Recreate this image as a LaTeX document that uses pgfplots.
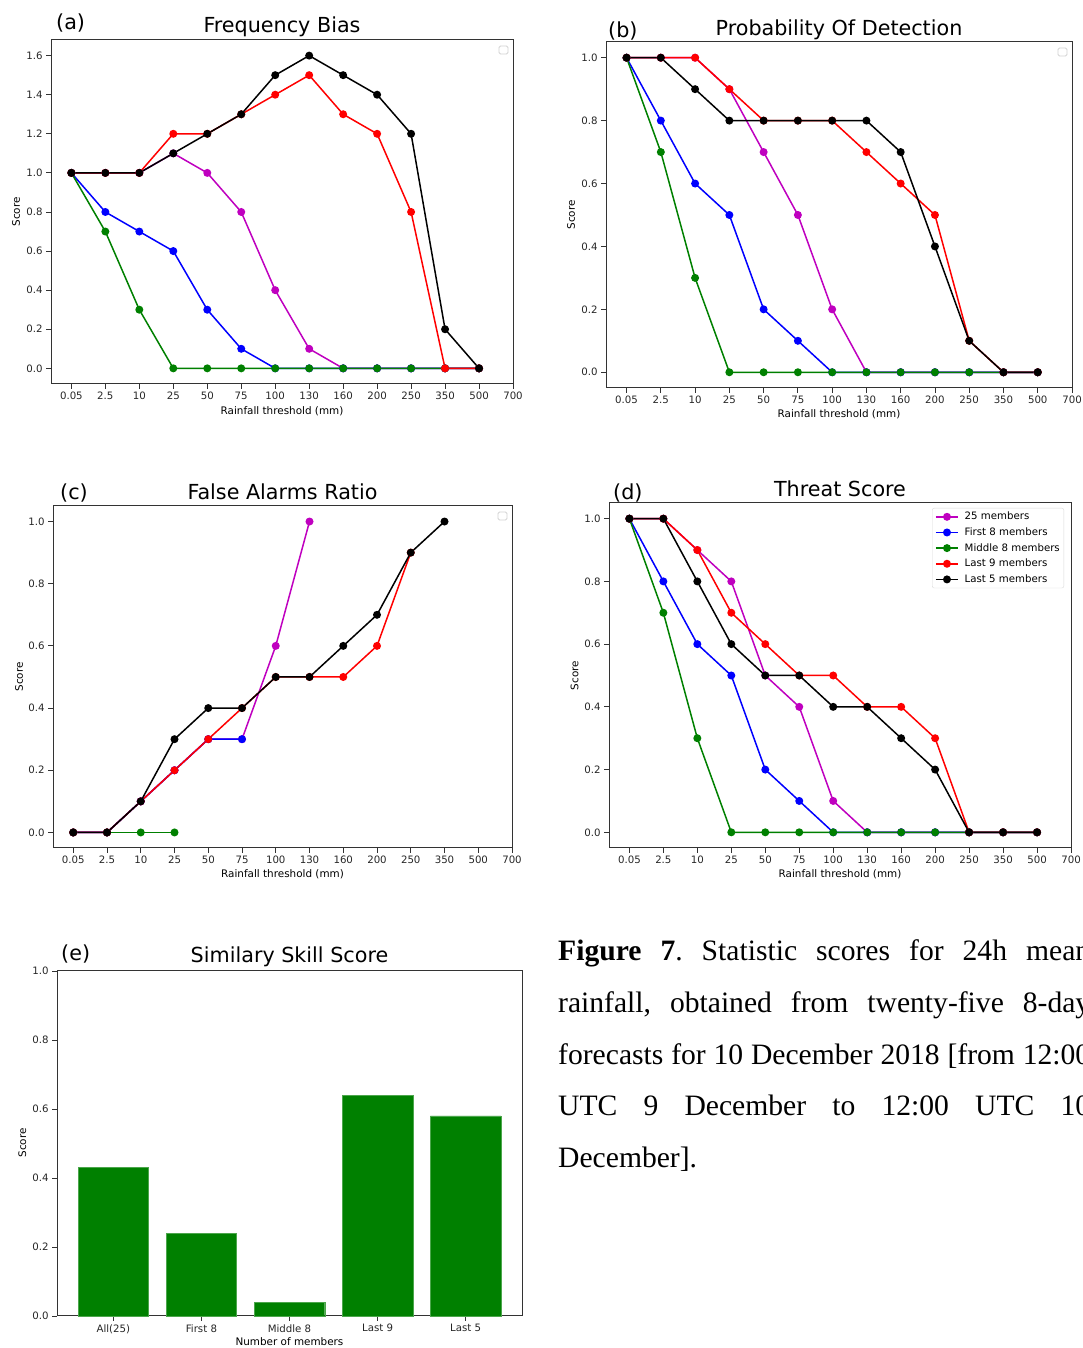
\documentclass[border=0pt]{standalone}
\usepackage{pgfplots}
\pgfplotsset{compat=1.18}
\usepackage{fontspec}
\setmainfont{DejaVu Sans}
\newfontfamily\capfont{Liberation Serif}
\definecolor{mplm}{rgb}{0.75,0,0.75}
\definecolor{mplg}{rgb}{0,0.5,0}
\definecolor{mplb}{rgb}{0,0,1}
\definecolor{mplr}{rgb}{1,0,0}
\newcommand{\fs}[1]{\fontsize{#1}{#1}\selectfont}
\frenchspacing
\pgfplotsset{
  base/.style={scale only axis, axis line style={line width=1pt, black!80},
    tick align=outside, major tick length=4.8pt, tick pos=left,
    tick style={black!80, line width=0.9pt},
    ticklabel style={font=\fs{10.2}, text=black!85},
    clip=false},
  panel/.style={base, xmin=-0.6, xmax=13, xtick={0,...,13},
    xticklabels={0.05,2.5,10,25,50,75,100,130,160,200,250,350,500,700}},
  unit/.style={ymin=-0.05, ymax=1.05, ytick={0,0.2,0.4,0.6,0.8,1.0},
    yticklabels={0.0,0.2,0.4,0.6,0.8,1.0}},
  s/.style={line width=1.5pt, color=#1, mark=*, mark size=3.2pt, mark options={solid, fill=#1}},
  legend image code/.code={\draw[mark repeat=2,mark phase=2,#1] plot coordinates {(0pt,0pt)(11pt,0pt)(22pt,0pt)};},
}
\newcommand{\emptylegend}{\draw[gray!35, line width=0.8pt, rounded corners=1.5pt] (rel axis cs:1,1) ++(-14pt,-6pt) rectangle ++(9pt,-8pt);}
\begin{document}
\begin{tikzpicture}
\useasboundingbox (0,0) rectangle (1082pt,1348pt);
\clip (0,0) rectangle (1082pt,1348pt);

% (a) Frequency Bias
\begin{axis}[panel, at={(51pt,964pt)}, anchor=south west, width=462pt, height=344pt,
  ymin=-0.08, ymax=1.68, ytick={0,0.2,...,1.6}, yticklabels={0.0,0.2,0.4,0.6,0.8,1.0,1.2,1.4,1.6}]
\addplot[s=mplm] coordinates {(0,1)(1,1)(2,1)(3,1.1)(4,1.0)(5,0.8)(6,0.4)(7,0.1)(8,0)(9,0)(10,0)(11,0)(12,0)};
\addplot[s=mplb] coordinates {(0,1)(1,0.8)(2,0.7)(3,0.6)(4,0.3)(5,0.1)(6,0)(7,0)(8,0)(9,0)(10,0)(11,0)(12,0)};
\addplot[s=mplg] coordinates {(0,1)(1,0.7)(2,0.3)(3,0)(4,0)(5,0)(6,0)(7,0)(8,0)(9,0)(10,0)(11,0)(12,0)};
\addplot[s=mplr] coordinates {(0,1)(1,1)(2,1)(3,1.2)(4,1.2)(5,1.3)(6,1.4)(7,1.5)(8,1.3)(9,1.2)(10,0.8)(11,0)(12,0)};
\addplot[s=black] coordinates {(0,1)(1,1)(2,1)(3,1.1)(4,1.2)(5,1.3)(6,1.5)(7,1.6)(8,1.5)(9,1.4)(10,1.2)(11,0.2)(12,0)};
\emptylegend
\end{axis}

% (b) Probability Of Detection
\begin{axis}[panel, unit, at={(606pt,960pt)}, anchor=south west, width=466pt, height=346pt]
\addplot[s=mplm] coordinates {(0,1)(1,1)(2,1)(3,0.9)(4,0.7)(5,0.5)(6,0.2)(7,0)(8,0)(9,0)(10,0)(11,0)(12,0)};
\addplot[s=mplb] coordinates {(0,1)(1,0.8)(2,0.6)(3,0.5)(4,0.2)(5,0.1)(6,0)(7,0)(8,0)(9,0)(10,0)(11,0)(12,0)};
\addplot[s=mplg] coordinates {(0,1)(1,0.7)(2,0.3)(3,0)(4,0)(5,0)(6,0)(7,0)(8,0)(9,0)(10,0)(11,0)(12,0)};
\addplot[s=mplr] coordinates {(0,1)(1,1)(2,1)(3,0.9)(4,0.8)(5,0.8)(6,0.8)(7,0.7)(8,0.6)(9,0.5)(10,0.1)(11,0)(12,0)};
\addplot[s=black] coordinates {(0,1)(1,1)(2,0.9)(3,0.8)(4,0.8)(5,0.8)(6,0.8)(7,0.8)(8,0.7)(9,0.4)(10,0.1)(11,0)(12,0)};
\emptylegend
\end{axis}

% (c) False Alarms Ratio
\begin{axis}[panel, unit, at={(53pt,500pt)}, anchor=south west, width=459pt, height=342pt]
\addplot[s=mplm] coordinates {(0,0)(1,0)(2,0.1)(3,0.2)(4,0.3)(5,0.3)(6,0.6)(7,1.0)};
\addplot[s=mplb] coordinates {(0,0)(1,0)(2,0.1)(3,0.2)(4,0.3)(5,0.3)};
\addplot[s=mplg] coordinates {(0,0)(1,0)(2,0)(3,0)};
\addplot[s=mplr] coordinates {(0,0)(1,0)(2,0.1)(3,0.2)(4,0.3)(5,0.4)(6,0.5)(7,0.5)(8,0.5)(9,0.6)(10,0.9)};
\addplot[s=black] coordinates {(0,0)(1,0)(2,0.1)(3,0.3)(4,0.4)(5,0.4)(6,0.5)(7,0.5)(8,0.6)(9,0.7)(10,0.9)(11,1.0)};
\emptylegend
\end{axis}

% (d) Threat Score
\begin{axis}[panel, unit, at={(609pt,500pt)}, anchor=south west, width=462pt, height=345pt,
  legend style={at={([xshift=-7pt,yshift=-5pt]rel axis cs:1,1)}, anchor=north east, font=\fs{10.2},
    draw=black!15, rounded corners=2pt, fill=white, inner xsep=3pt, inner ysep=3pt, row sep=4.4pt,
    nodes={inner sep=1pt}},
  legend cell align=left]
\addplot[s=mplm] coordinates {(0,1)(1,1)(2,0.9)(3,0.8)(4,0.5)(5,0.4)(6,0.1)(7,0)(8,0)(9,0)(10,0)(11,0)(12,0)};
\addplot[s=mplb] coordinates {(0,1)(1,0.8)(2,0.6)(3,0.5)(4,0.2)(5,0.1)(6,0)(7,0)(8,0)(9,0)(10,0)(11,0)(12,0)};
\addplot[s=mplg] coordinates {(0,1)(1,0.7)(2,0.3)(3,0)(4,0)(5,0)(6,0)(7,0)(8,0)(9,0)(10,0)(11,0)(12,0)};
\addplot[s=mplr] coordinates {(0,1)(1,1)(2,0.9)(3,0.7)(4,0.6)(5,0.5)(6,0.5)(7,0.4)(8,0.4)(9,0.3)(10,0)(11,0)(12,0)};
\addplot[s=black] coordinates {(0,1)(1,1)(2,0.8)(3,0.6)(4,0.5)(5,0.5)(6,0.4)(7,0.4)(8,0.3)(9,0.2)(10,0)(11,0)(12,0)};
\legend{\hspace{5pt}25 members, \hspace{5pt}First 8 members, \hspace{5pt}Middle 8 members, \hspace{5pt}Last 9 members, \hspace{5pt}Last 5 members}
\end{axis}

% (e) Similary Skill Score
\begin{axis}[base, at={(57pt,32pt)}, anchor=south west, width=465pt, height=345pt,
  xmin=-0.64, xmax=4.64, ymin=0, ymax=1, xtick={0,...,4},
  xticklabels={All(25),First 8,Middle 8,Last 9,Last 5},
  ytick={0,0.2,...,1.0}, yticklabels={0.0,0.2,0.4,0.6,0.8,1.0}]
\addplot[ybar, bar width=0.8, fill=mplg, draw=mplg!70!white, line width=0.4pt] coordinates {(0,0.43)(1,0.24)(2,0.04)(3,0.64)(4,0.58)};
\end{axis}

% titles and panel letters
\begin{scope}[every node/.style={inner sep=0pt, font=\fs{20.7}}]
\node[anchor=base] at (282pt,1315pt) {Frequency Bias};
\node[anchor=base west] at (56pt,1318pt) {(a)};
\node[anchor=base] at (839pt,1312pt) {Probability Of Detection};
\node[anchor=base west] at (608pt,1310pt) {(b)};
\node[anchor=base] at (282.5pt,848pt) {False Alarms Ratio};
\node[anchor=base west] at (60pt,848pt) {(c)};
\node[anchor=base] at (840pt,851pt) {Threat Score};
\node[anchor=base west] at (613pt,848pt) {(d)};
\node[anchor=base] at (289.5pt,385pt) {Similary Skill Score};
\node[anchor=base west] at (61pt,387pt) {(e)};
\end{scope}

% axis labels
\begin{scope}[every node/.style={inner sep=0pt, font=\fs{10.4}}]
\node[anchor=base] at (282pt,933pt) {Rainfall threshold (mm)};
\node[rotate=90] at (16pt,1136pt) {Score};
\node[anchor=base] at (839pt,930pt) {Rainfall threshold (mm)};
\node[rotate=90] at (571pt,1133pt) {Score};
\node[anchor=base] at (282.5pt,470pt) {Rainfall threshold (mm)};
\node[rotate=90] at (19pt,671pt) {Score};
\node[anchor=base] at (840pt,470pt) {Rainfall threshold (mm)};
\node[rotate=90] at (574.5pt,672.5pt) {Score};
\node[anchor=base] at (289.5pt,2pt) {Number of members};
\node[rotate=90] at (22.4pt,205pt) {Score};
\end{scope}

% caption
\begin{scope}[every node/.style={inner sep=0pt, anchor=base west, font=\capfont\fs{29.6}}]
\node at (558pt,387pt) {\makebox[532pt][s]{\textbf{Figure 7}. Statistic scores for 24h mean}};
\node at (558pt,335.4pt) {\makebox[532pt][s]{rainfall, obtained from twenty-five 8-day}};
\node at (558pt,283.8pt) {\makebox[532pt][s]{forecasts for 10 December 2018 [from 12:00}};
\node at (558pt,232.2pt) {\makebox[532pt][s]{UTC 9 December to 12:00 UTC 10}};
\node at (558pt,180.6pt) {December].};
\end{scope}
\end{tikzpicture}
\end{document}
